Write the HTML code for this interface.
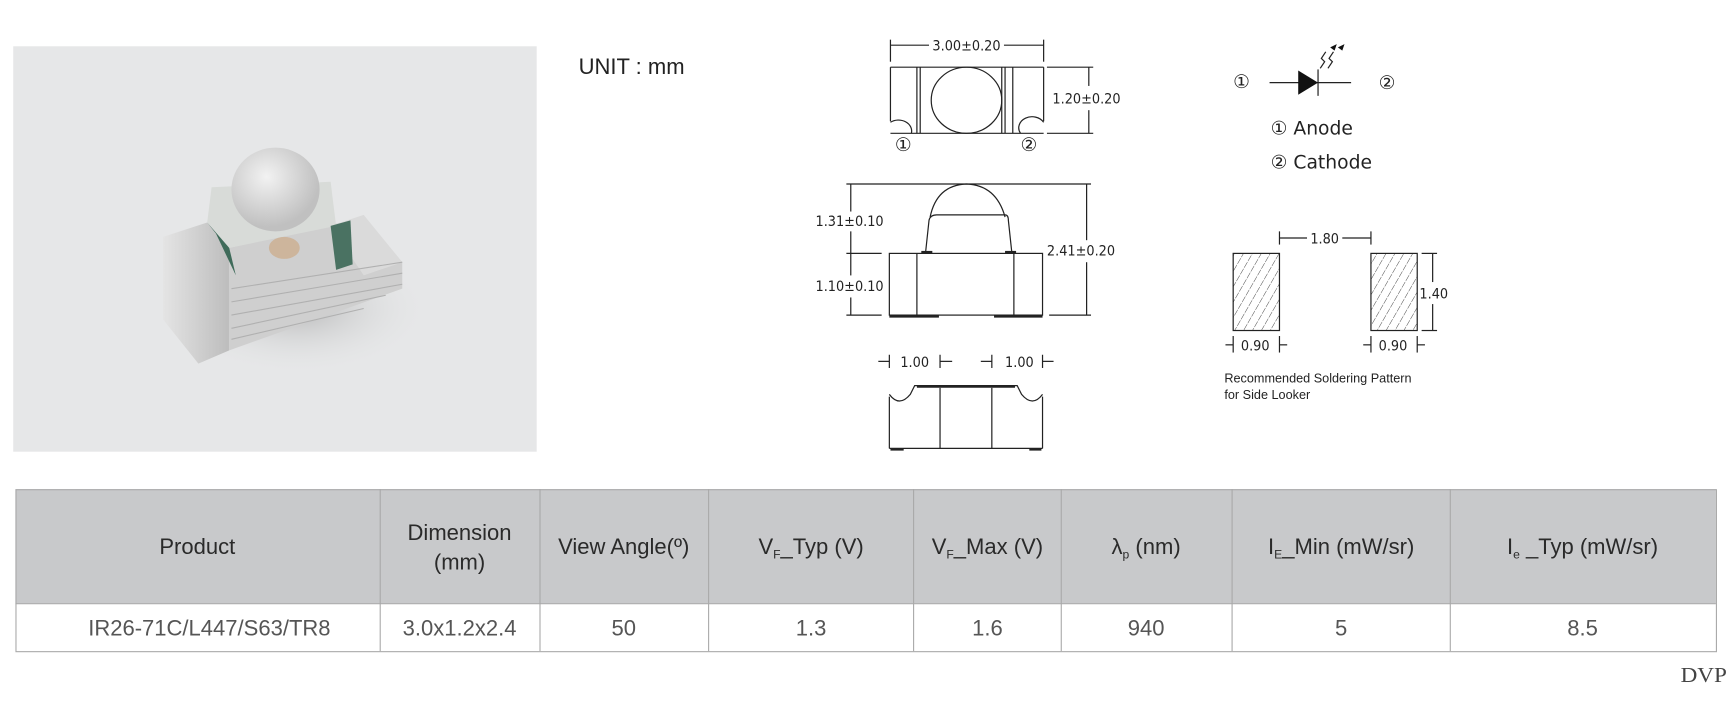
<!DOCTYPE html>
<html><head><meta charset="utf-8"><style>
html,body{margin:0;padding:0;background:#fff;width:1728px;height:704px;overflow:hidden}
svg{display:block;font-family:"Liberation Sans",sans-serif}
.dim text{font-family:"DejaVu Sans Condensed","DejaVu Sans",sans-serif}
.cir text{font-family:"DejaVu Sans",sans-serif}
.dvp{font-family:"Liberation Serif",serif}
</style></head><body>
<svg width="1728" height="704" viewBox="0 0 1568 639" preserveAspectRatio="none" xmlns="http://www.w3.org/2000/svg">
<defs>
<pattern id="h" width="7" height="7" patternUnits="userSpaceOnUse" patternTransform="rotate(30)">
<line x1="0" y1="0" x2="0" y2="7" stroke="#333" stroke-width="0.8" stroke-dasharray="3,1"/></pattern>
<radialGradient id="sh" cx="0.5" cy="0.5" r="0.5"><stop offset="0" stop-color="#999" stop-opacity="0.6"/><stop offset="1" stop-color="#e6e7e8" stop-opacity="0"/></radialGradient>
<radialGradient id="dome" cx="0.4" cy="0.35" r="0.6"><stop offset="0" stop-color="#f2f2f2"/><stop offset="1" stop-color="#c0c0c0"/></radialGradient>
<linearGradient id="side" x1="0" y1="0" x2="1" y2="0"><stop offset="0" stop-color="#e4e4e4"/><stop offset="1" stop-color="#bdbdbd"/></linearGradient>
</defs>
<rect x="12" y="42" width="475" height="368" fill="#e6e7e8"/>
<ellipse cx="270" cy="280" rx="120" ry="60" fill="url(#sh)"/>
<polygon points="148,215 188,202 208,225 208,318 180,330 148,290" fill="url(#side)"/>
<polygon points="208,225 318,200 340,208 365,238 365,262 208,318" fill="#cfcfcf"/>
<polygon points="300,205 330,195 365,238 330,250" fill="#dadada"/>
<polygon points="188,202 192,170 300,165 305,205 208,225" fill="#d8dbd8"/>
<polygon points="188,202 208,225 214,250 196,212" fill="#3f6b5a"/>
<polygon points="300,205 318,200 320,240 305,245" fill="#4a7262"/>
<ellipse cx="250" cy="172" rx="40" ry="38" fill="url(#dome)"/>
<ellipse cx="258" cy="225" rx="14" ry="10" fill="#cdb59c"/>
<g stroke="#b0b0b0" stroke-width="1">
<line x1="210" y1="262" x2="365" y2="238"/><line x1="210" y1="274" x2="365" y2="248"/><line x1="210" y1="286" x2="365" y2="258"/><line x1="210" y1="298" x2="350" y2="268"/><line x1="210" y1="308" x2="330" y2="280"/>
</g>
<text x="525" y="67" font-size="20" fill="#222">UNIT : mm</text>
<g stroke="#222" fill="none" stroke-width="1.1">
<line x1="808" y1="36" x2="808" y2="56"/><line x1="947" y1="36" x2="947" y2="56"/>
<line x1="808" y1="41" x2="843" y2="41"/><line x1="911" y1="41" x2="947" y2="41"/>
<line x1="808" y1="61" x2="947" y2="61"/><line x1="808" y1="121" x2="947" y2="121"/>
<line x1="808" y1="61" x2="808" y2="110"/><line x1="947" y1="61" x2="947" y2="110"/>
<line x1="832" y1="61" x2="832" y2="121"/><line x1="835" y1="61" x2="835" y2="121"/>
<line x1="909" y1="61" x2="909" y2="121"/><line x1="912" y1="61" x2="912" y2="121"/><line x1="919" y1="61" x2="919" y2="121"/>
<ellipse cx="877" cy="91" rx="32" ry="30"/>
<path d="M808,111 A12,10 0 0 1 827,121"/><path d="M926,121 A12,10 0 0 1 947,111"/>
<line x1="950" y1="61" x2="992" y2="61"/><line x1="950" y1="121" x2="992" y2="121"/>
<line x1="988" y1="61" x2="988" y2="78"/><line x1="988" y1="100" x2="988" y2="121"/>
<line x1="768" y1="167" x2="990" y2="167"/><line x1="768" y1="286" x2="800" y2="286"/><line x1="952" y1="286" x2="990" y2="286"/>
<line x1="768" y1="230" x2="800" y2="230"/>
<line x1="772" y1="167" x2="772" y2="192"/><line x1="772" y1="210" x2="772" y2="250"/><line x1="772" y1="270" x2="772" y2="286"/>
<line x1="986" y1="167" x2="986" y2="218"/><line x1="986" y1="238" x2="986" y2="286"/>
<rect x="807" y="230" width="139" height="56"/>
<line x1="832" y1="230" x2="832" y2="286"/><line x1="920" y1="230" x2="920" y2="286"/>
<path d="M840,228 L843,200 Q844,195 850,195 L912,195 Q915,195 915,200 L918,228"/>
<path d="M844,197 Q850,168 877,167 Q904,168 912,197"/>
<line x1="836" y1="229" x2="846" y2="229" stroke-width="2.5"/><line x1="912" y1="229" x2="922" y2="229" stroke-width="2.5"/>
<line x1="807" y1="287" x2="852" y2="287" stroke-width="2.5"/><line x1="902" y1="287" x2="946" y2="287" stroke-width="2.5"/>
<line x1="797" y1="328" x2="807" y2="328"/><line x1="807" y1="322" x2="807" y2="334"/>
<line x1="853" y1="322" x2="853" y2="334"/><line x1="853" y1="328" x2="864" y2="328"/>
<line x1="890" y1="328" x2="900" y2="328"/><line x1="900" y1="322" x2="900" y2="334"/>
<line x1="946" y1="322" x2="946" y2="334"/><line x1="946" y1="328" x2="956" y2="328"/>
<line x1="807" y1="360" x2="807" y2="407"/><line x1="946" y1="360" x2="946" y2="407"/>
<line x1="807" y1="407" x2="946" y2="407"/>
<path d="M807,358 Q816,370 826,358 L830,350 L923,350 L927,358 Q937,370 946,358"/>
<line x1="853" y1="352" x2="853" y2="407"/><line x1="900" y1="352" x2="900" y2="407"/>
<line x1="832" y1="351" x2="921" y2="351" stroke-width="2"/>
<line x1="808" y1="408" x2="820" y2="408" stroke-width="2"/><line x1="934" y1="408" x2="945" y2="408" stroke-width="2"/>
<line x1="1152" y1="75" x2="1226" y2="75"/>
<line x1="1196" y1="63" x2="1196" y2="87"/>
<path d="M1198,62 l4,-6 l-3,-3 l4,-6 M1205,62 l4,-6 l-3,-3 l4,-6"/>
<rect x="1119" y="230" width="42" height="70" fill="url(#h)"/>
<rect x="1244" y="230" width="42" height="70" fill="url(#h)"/>
<line x1="1161" y1="210" x2="1161" y2="222"/><line x1="1244" y1="210" x2="1244" y2="222"/>
<line x1="1161" y1="216" x2="1186" y2="216"/><line x1="1218" y1="216" x2="1244" y2="216"/>
<line x1="1290" y1="230" x2="1304" y2="230"/><line x1="1290" y1="300" x2="1304" y2="300"/>
<line x1="1300" y1="230" x2="1300" y2="256"/><line x1="1300" y1="276" x2="1300" y2="300"/>
<line x1="1119" y1="305" x2="1119" y2="320"/><line x1="1161" y1="305" x2="1161" y2="320"/>
<line x1="1244" y1="305" x2="1244" y2="320"/><line x1="1286" y1="305" x2="1286" y2="320"/>
<line x1="1112" y1="313" x2="1119" y2="313"/><line x1="1161" y1="313" x2="1168" y2="313"/>
<line x1="1237" y1="313" x2="1244" y2="313"/><line x1="1286" y1="313" x2="1293" y2="313"/>
</g>
<polygon points="1178,64 1178,86 1196,75" fill="#111"/>
<polygon points="1213,40 1207,43 1211,46" fill="#111"/><polygon points="1220,40 1214,43 1218,46" fill="#111"/>
<g class="dim" font-size="13" fill="#222">
<text x="877" y="46" text-anchor="middle">3.00±0.20</text>
<text x="955" y="94">1.20±0.20</text>
<text x="740" y="205">1.31±0.10</text>
<text x="740" y="264">1.10±0.10</text>
<text x="950" y="232">2.41±0.20</text>
<text x="817" y="333">1.00</text>
<text x="912" y="333">1.00</text>
<text x="1202" y="221" text-anchor="middle">1.80</text>
<text x="1288" y="271">1.40</text>
<text x="1126" y="318">0.90</text>
<text x="1251" y="318">0.90</text>
</g>
<g class="cir" font-size="17" fill="#222">
<text x="1119" y="80">①</text><text x="1251" y="81">②</text>
<text x="812" y="137">①</text><text x="926" y="137">②</text>
<text x="1153" y="122">① Anode</text>
<text x="1153" y="153">② Cathode</text>
</g>
<text x="1111" y="347" font-size="11.5" fill="#222">Recommended Soldering Pattern</text>
<text x="1111" y="362" font-size="11.5" fill="#222">for Side Looker</text>
<rect x="14" y="444" width="1543" height="104" fill="#c8c9cb"/>
<rect x="14" y="548" width="1543" height="43" fill="#fff"/>
<g stroke="#a9a9a9" stroke-width="1" fill="none">
<rect x="14.5" y="444.5" width="1543" height="147"/>
<line x1="14" y1="548" x2="1557" y2="548"/>
<line x1="345" y1="444" x2="345" y2="591"/><line x1="490" y1="444" x2="490" y2="591"/>
<line x1="643" y1="444" x2="643" y2="591"/><line x1="829" y1="444" x2="829" y2="591"/>
<line x1="963" y1="444" x2="963" y2="591"/><line x1="1118" y1="444" x2="1118" y2="591"/>
<line x1="1316" y1="444" x2="1316" y2="591"/>
</g>
<g font-size="20" fill="#2a2a2a" text-anchor="middle">
<text x="179" y="503">Product</text>
<text x="417" y="490">Dimension</text><text x="417" y="517">(mm)</text>
<text x="566" y="503">View Angle(º)</text>
<text x="736" y="503">V<tspan font-size="11" dy="4">F</tspan><tspan dy="-4">_Typ (V)</tspan></text>
<text x="896" y="503">V<tspan font-size="11" dy="4">F</tspan><tspan dy="-4">_Max (V)</tspan></text>
<text x="1040" y="503">λ<tspan font-size="11" dy="4">p</tspan><tspan dy="-4"> (nm)</tspan></text>
<text x="1217" y="503">I<tspan font-size="11" dy="4">E</tspan><tspan dy="-4">_Min (mW/sr)</tspan></text>
<text x="1436" y="503">I<tspan font-size="11" dy="4">e</tspan><tspan dy="-4"> _Typ (mW/sr)</tspan></text>
</g>
<g font-size="20" fill="#555" text-anchor="middle">
<text x="190" y="577">IR26-71C/L447/S63/TR8</text>
<text x="417" y="577">3.0x1.2x2.4</text>
<text x="566" y="577">50</text>
<text x="736" y="577">1.3</text>
<text x="896" y="577">1.6</text>
<text x="1040" y="577">940</text>
<text x="1217" y="577">5</text>
<text x="1436" y="577">8.5</text>
</g>
<text class="dvp" x="1525" y="619" font-size="19" fill="#444" textLength="42" lengthAdjust="spacingAndGlyphs">DVP</text>
</svg>
</body></html>
